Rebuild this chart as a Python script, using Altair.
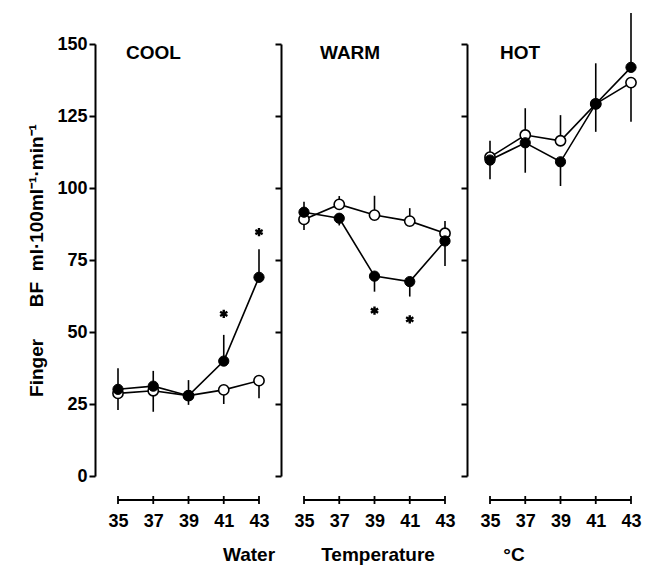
import altair as alt
import pandas as pd

temps = [35, 37, 39, 41, 43]

cool_filled = [30.1, 31.2, 27.9, 39.9, 69.0]
cool_filled_err = [37.4, 36.5, 33.3, 49.0, 78.7]
cool_open = [28.7, 29.6, 27.9, 29.9, 33.1]
cool_open_err = [22.9, 22.3, 24.7, 25.0, 27.0]
cool_star_temps = [41, 43]
cool_star_vals = [56.3, 84.7]

warm_filled = [91.6, 89.5, 69.4, 67.5, 81.6]
warm_filled_err = [95.2, 87.0, 64.0, 62.3, 72.9]
warm_open = [89.1, 94.3, 90.6, 88.5, 84.3]
warm_open_err = [85.4, 97.2, 97.3, 93.0, 88.5]
warm_star_temps = [39, 41]
warm_star_vals = [57.4, 54.4]

hot_filled = [109.7, 115.7, 109.1, 129.2, 141.9]
hot_filled_err = [103.0, 105.3, 100.7, 119.5, 160.8]
hot_open = [110.7, 118.4, 116.4, 129.2, 136.6]
hot_open_err = [116.4, 127.7, 125.3, 143.3, 123.0]
hot_star_temps = []
hot_star_vals = []

panel_names = ["COOL", "WARM", "HOT"]
x_titles = ["Water", "Temperature", "°C"]
y_ticks = [0, 25, 50, 75, 100, 125, 150]
NB = "\u00a0"
y_title = "Finger" + NB * 6 + "BF" + NB * 2 + "ml·100ml⁻¹·min⁻¹"

FONT = "Liberation Sans"
W, H = 141, 432
XOFF = 24

STAR = "M0,-1L0,1M-0.87,-0.5L0.87,0.5M-0.87,0.5L0.87,-0.5"


def panel(idx, filled, filled_err, open_, open_err, star_t, star_v,
          name_x, xt_x, first):
    rows = []
    for t, v, e in zip(temps, filled, filled_err):
        rows.append({"temp": t, "series": "filled", "value": v, "err": e})
    for t, v, e in zip(temps, open_, open_err):
        rows.append({"temp": t, "series": "open", "value": v, "err": e})
    df = pd.DataFrame(rows)

    xscale = alt.Scale(domain=[35, 43], nice=False, zero=False)
    xax = alt.Axis(values=temps, offset=XOFF, title=None, format="d",
                   domain=False, ticks=False, labelPadding=12,
                   labelFlush=False, labelOverlap=False)
    if first:
        yax = alt.Axis(values=y_ticks, offset=23, title=y_title,
                       titlePadding=10, titleFontSize=19, titleFont=FONT,
                       titleFontWeight="bold", tickSize=6, labelPadding=2,
                       labelFlush=False, labelOverlap=False)
    else:
        yax = alt.Axis(values=y_ticks, offset=23, title=None, labels=False,
                       tickSize=6)

    x = alt.X("temp:Q", scale=xscale, axis=xax)
    y = alt.Y("value:Q", scale=alt.Scale(domain=[0, 150], nice=False),
              axis=yax)

    base = alt.Chart(df)
    err = base.mark_rule(color="black", strokeWidth=1.6).encode(
        x=x, y=y, y2="err:Q")
    line = base.mark_line(color="black", strokeWidth=1.6).encode(
        x=x, y=y, detail="series:N")
    opn = base.transform_filter(alt.datum.series == "open").mark_point(
        shape="circle", filled=True, fill="white", stroke="black",
        strokeWidth=1.6, size=105, opacity=1).encode(x=x, y=y)
    fil = base.transform_filter(alt.datum.series == "filled").mark_point(
        shape="circle", filled=True, fill="black", stroke="black",
        strokeWidth=1, size=105, opacity=1).encode(x=x, y=y)

    # x-axis baseline and crossing ticks (drawn below the plot)
    adf = pd.DataFrame({"temp": [temps[0]], "t1": [temps[-1]]})
    xline = alt.Chart(adf).mark_rule(color="black", strokeWidth=1.8).encode(
        x=x, x2="t1:Q", y=alt.value(H + XOFF))
    tick_df = pd.DataFrame({"temp": temps})
    xticks = alt.Chart(tick_df).mark_rule(
        color="black", strokeWidth=1.8).encode(
        x=x, y=alt.value(H + XOFF - 4), y2=alt.value(H + XOFF + 4))

    layers = [err, line, opn, fil, xline, xticks]

    if star_t:
        sdf = pd.DataFrame({"temp": star_t, "value": star_v})
        stars = alt.Chart(sdf).mark_point(
            shape=STAR, filled=False, stroke="black", strokeWidth=2.4,
            size=70, opacity=1).encode(x=x, y=y)
        layers.append(stars)

    tdf = pd.DataFrame({"label": [panel_names[idx]]})
    name = alt.Chart(tdf).mark_text(
        font=FONT, fontWeight="bold", fontSize=19, align="left",
        baseline="middle", color="black").encode(
        text="label:N", x=alt.value(name_x), y=alt.value(9))
    xdf = pd.DataFrame({"label": [x_titles[idx]]})
    xt = alt.Chart(xdf).mark_text(
        font=FONT, fontWeight="bold", fontSize=19, align="center",
        baseline="middle", color="black").encode(
        text="label:N", x=alt.value(xt_x), y=alt.value(H + 79))
    layers += [name, xt]
    return alt.layer(*layers).properties(width=W, height=H)


p1 = panel(0, cool_filled, cool_filled_err, cool_open, cool_open_err,
           cool_star_temps, cool_star_vals, 8, 131, True)
p2 = panel(1, warm_filled, warm_filled_err, warm_open, warm_open_err,
           warm_star_temps, warm_star_vals, 16, 74, False)
p3 = panel(2, hot_filled, hot_filled_err, hot_open, hot_open_err,
           hot_star_temps, hot_star_vals, 10, 24, False)

chart = alt.hconcat(p1, p2, p3, spacing=45, bounds="flush").properties(
    padding={"left": 19, "top": 3, "right": 5, "bottom": 5}
).configure(background="white").configure_view(
    stroke="transparent"
).configure_axis(
    grid=False, domainColor="black", tickColor="black", domainWidth=2,
    tickWidth=2, labelFont=FONT, labelFontWeight="bold", labelFontSize=18,
    labelColor="black", titleColor="black"
)

chart.save("out.html", embed_options={"renderer": "svg", "actions": False})
